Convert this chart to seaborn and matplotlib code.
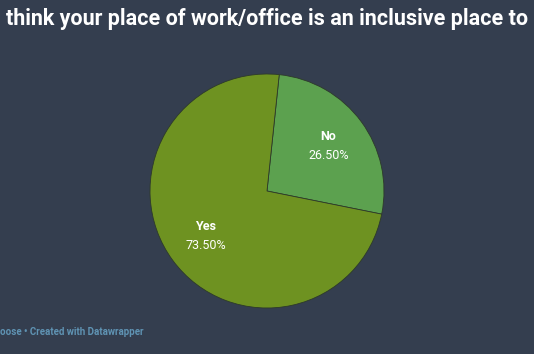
import numpy as np
import matplotlib
matplotlib.use("Agg")
import matplotlib.pyplot as plt
import seaborn as sns

categories = ["No", "Yes"]
values = [26.5, 73.5]
pct_labels = ["26.50%", "73.50%"]
title = "think your place of work/office is an inclusive place to"
footer_a = "oose \u2022 "
footer_b = "Created with Datawrapper"

bg = "#343e4f"
colors = ["#5ca14f", "#6e9221"]

sns.set_theme(style="white")
plt.rcParams["font.family"] = ["Roboto", "DejaVu Sans"]

fig = plt.figure(figsize=(5.34, 3.54), dpi=100, facecolor=bg)
ax = fig.add_axes([150/534, 46/354, 234/534, 234/354])
ax.set_facecolor(bg)
wedges, _ = ax.pie(values, colors=colors, startangle=84, counterclock=False,
                   wedgeprops=dict(edgecolor="#2d3a2a", linewidth=0.6))
ax.set_xlim(-1, 1)
ax.set_ylim(-1, 1)
ax.set_aspect("equal")
ax.axis("off")

for w, cat, pct in zip(wedges, categories, pct_labels):
    mid = np.deg2rad((w.theta1 + w.theta2) / 2)
    x, y = 0.65 * np.cos(mid), 0.65 * np.sin(mid)
    ax.text(x, y + 0.08, cat, ha="center", va="center", color="white",
            fontsize=9, fontweight="bold")
    ax.text(x, y - 0.08, pct, ha="center", va="center", color="white",
            fontsize=9)

fig.text(6/534, 1 - 19/354, title, ha="left", va="center", color="white",
         fontsize=15.5, fontweight="bold")
fig.text(0, 1 - 332/354, footer_a + footer_b, ha="left", va="center",
         color="#5f93b3", fontsize=7, fontweight="bold")

fig.savefig("out.png", dpi=100, facecolor=bg)
